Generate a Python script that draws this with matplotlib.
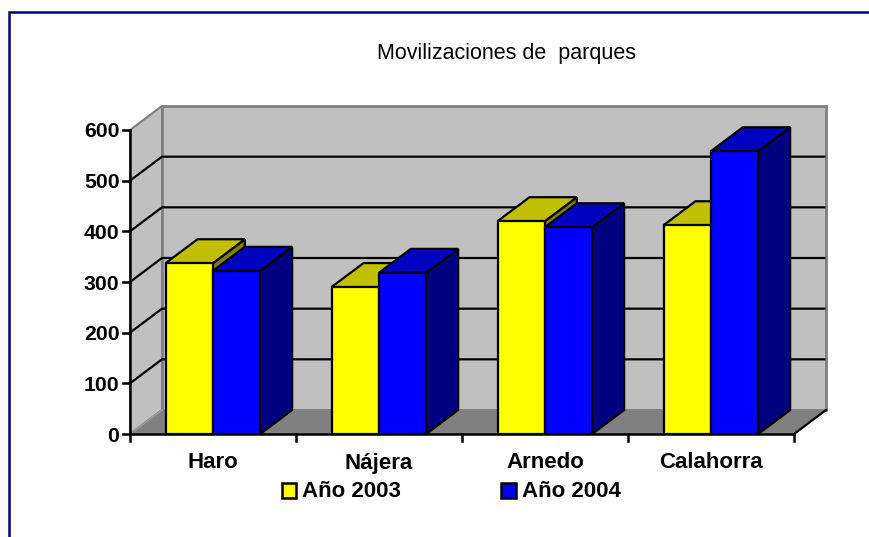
import matplotlib
matplotlib.use('Agg')
import matplotlib.pyplot as plt
from matplotlib.patches import Polygon

categories = ['Haro', 'Nájera', 'Arnedo', 'Calahorra']
anio_2003 = [337, 290, 420, 412]
anio_2004 = [322, 318, 408, 558]
yticks = [0, 100, 200, 300, 400, 500, 600]
series_names = ['Año 2003', 'Año 2004']
title = 'Movilizaciones de  parques'

W, H = 870, 537
# pixel scale of the axes: one category = 166 px, 600 units = 304 px
PX_X = 166.0
PX_Y = 304.0 / 600
X0, Y0 = 130, 434
DX = 32 / PX_X
DY = 24 / PX_Y

NAVY = '#000080'
FONT = ['Liberation Sans', 'DejaVu Sans']

fig = plt.figure(figsize=(W / 100, H / 100), dpi=100)
ax = fig.add_axes([0, 0, 1, 1])
ax.set_xlim(-X0 / PX_X, (W - X0) / PX_X)
ax.set_ylim((Y0 - H) / PX_Y, Y0 / PX_Y)
ax.set_axis_off()

def poly(pts, fc, ec='black', lw=1.6, z=2):
    ax.add_patch(Polygon(pts, closed=True, facecolor=fc, edgecolor=ec, linewidth=lw,
                         joinstyle='miter', zorder=z))

def px_x(v):
    return (v - X0) / PX_X

def px_y(v):
    return (Y0 - v) / PX_Y

n = len(categories)
top = yticks[-1]

# outer frame of the slide
ax.plot([px_x(9.5), px_x(9.5), px_x(870)], [px_y(537), px_y(12), px_y(12)],
        color=NAVY, lw=1.8, zorder=1, solid_joinstyle='miter')

# walls and floor
poly([(0, 0), (DX, DY), (DX, top + DY), (0, top)], '#c0c0c0', ec='#808080', lw=1.5)
poly([(DX, DY), (n + DX, DY), (n + DX, top + DY), (DX, top + DY)], '#c0c0c0', ec='#808080', lw=2)
poly([(0, 0), (n, 0), (n + DX, DY), (DX, DY)], '#808080', ec='#808080', lw=1)

# gridlines on the walls
for t in yticks[1:-1]:
    ax.plot([0, DX, n + DX - 0.01], [t, t + DY, t + DY], color='black', lw=1.6, zorder=2.1)
ax.plot([0, DX], [0, DY], color='#a0a0a0', lw=1.0, zorder=2.1)

# axes and ticks
ax.plot([0, 0], [0, top], color='black', lw=1.8, zorder=2.2)
ax.plot([0, n], [0, 0], color='black', lw=1.8, zorder=5)
ax.plot([n, n + DX], [0, DY], color='black', lw=1.6, zorder=2.2)
for t in yticks:
    ax.plot([-7 / PX_X, 0], [t, t], color='black', lw=1.8, zorder=2.2)
    ax.text(px_x(119.5), t - 2 / PX_Y, str(t), ha='right', va='center', fontsize=15.3,
            fontweight='bold', family=FONT)
for i in range(n + 1):
    ax.plot([i, i], [0, -7 / PX_Y], color='black', lw=1.8, zorder=2.2)

# bars
def bar3d(x, w, v, front, topc, side, z):
    poly([(x + w, 0), (x + w + DX, DY), (x + w + DX, v + DY), (x + w, v)], side, z=z)
    poly([(x, v), (x + DX, v + DY), (x + w + DX, v + DY), (x + w, v)], topc, z=z)
    poly([(x, 0), (x + w, 0), (x + w, v), (x, v)], front, z=z)

BAR_W = 0.285
for i in range(n):
    x1 = i + 0.214
    x2 = x1 + BAR_W
    bar3d(x1, BAR_W, anio_2003[i], '#ffff00', '#c0c000', '#808000', 3 + i * 0.1)
    bar3d(x2, BAR_W, anio_2004[i], '#0000ff', '#0000c0', '#000080', 3.05 + i * 0.1)

# category labels, the accented one sits a bit high with baseline alignment
for i, c in enumerate(categories):
    nudge = 2 if 'á' in c else 0
    ax.text(i + 0.5, px_y(467.5 + nudge), c, ha='center', va='baseline', fontsize=16,
            fontweight='bold', family=FONT)

# title
ax.text(px_x(506.5), px_y(59), title, ha='center', va='baseline', fontsize=15.5, family=FONT)

# legend
for name, fc, sx, tx in zip(series_names, ['#ffff00', '#0000ff'], [282, 501.5], [302.5, 522]):
    poly([(px_x(sx), px_y(483)), (px_x(sx + 14.5), px_y(483)),
          (px_x(sx + 14.5), px_y(497.5)), (px_x(sx), px_y(497.5))], fc, lw=1.8)
    ax.text(px_x(tx), px_y(497), name, ha='left', va='baseline', fontsize=16,
            fontweight='bold', family=FONT)

fig.savefig('out.png', dpi=100, facecolor='white')
